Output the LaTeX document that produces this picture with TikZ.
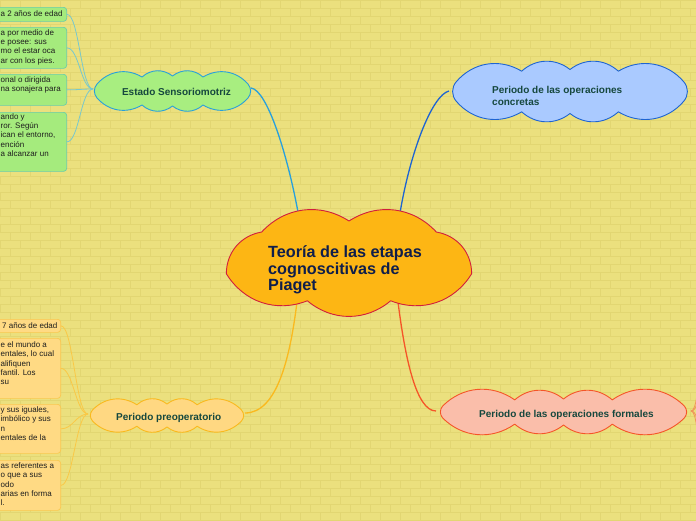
\documentclass[tikz,border=0pt]{standalone}
\usepackage{fontspec}
\setmainfont{Liberation Sans}
\definecolor{bg}{RGB}{235,224,126}
\definecolor{brickline}{RGB}{226,214,114}
\definecolor{cfill}{RGB}{253,182,20}
\definecolor{cline}{RGB}{210,30,60}
\definecolor{ctext}{RGB}{15,30,75}
\definecolor{stext}{RGB}{22,72,62}
\definecolor{gfill}{RGB}{168,238,128}
\definecolor{gline}{RGB}{40,160,220}
\definecolor{bfill}{RGB}{170,202,255}
\definecolor{bline}{RGB}{30,100,210}
\definecolor{rfill}{RGB}{250,190,170}
\definecolor{rline}{RGB}{245,85,40}
\definecolor{ofill}{RGB}{255,216,130}
\definecolor{oline}{RGB}{250,185,30}
\definecolor{gbfill}{RGB}{165,235,125}
\definecolor{gbline}{RGB}{105,205,170}
\definecolor{gconn}{RGB}{120,200,205}
\definecolor{obfill}{RGB}{255,218,132}
\definecolor{obline}{RGB}{250,200,80}
\definecolor{oconn}{RGB}{250,200,70}
\definecolor{rconn}{RGB}{240,150,90}
\definecolor{smalltext}{RGB}{30,30,30}
% cloud outline: 1 cx, 2 cy, 3 a, 4 b, 5 puffs, 6 phase, 7 spacing distortion, 8 bend
\newcommand\mycloudpath[8]{%
 ({#1+#3*cos(#6+#7*28.648*sin(2*(#6)))},{#2-#4*sin(#6+#7*28.648*sin(2*(#6)))})
 \foreach \ii in {1,...,#5}{
   to[bend right=#8] ({#1+#3*cos(#6+360*\ii/#5+#7*28.648*sin(2*(#6+360*\ii/#5)))},{#2-#4*sin(#6+360*\ii/#5+#7*28.648*sin(2*(#6+360*\ii/#5)))})
 } -- cycle}
\begin{document}
\begin{tikzpicture}[x=1pt,y=-1pt,
  cloudline/.style={line width=0.9pt, line join=round},
  maintitle/.style={font=\bfseries\fontsize{16.2}{17}\selectfont, text=ctext, inner sep=0pt, anchor=base west},
  subtitle/.style={font=\bfseries\fontsize{10}{12}\selectfont, text=stext, inner sep=0pt},
  smalltxt/.style={font=\fontsize{8}{9.2}\selectfont, text=smalltext, inner sep=0pt, anchor=base west},
  gbox/.style={draw=gbline, fill=gbfill, rounded corners=3pt, line width=0.7pt, inner sep=0pt, anchor=north east},
  obox/.style={draw=obline, fill=obfill, rounded corners=3pt, line width=0.7pt, inner sep=0pt, anchor=north east},
  mainconn/.style={line width=1.3pt},
  leafconn/.style={line width=0.8pt}
]
\useasboundingbox (0,0) rectangle (696,520);
\begin{scope}
\clip (0,0) rectangle (696,520);
\fill[bg] (0,0) rectangle (696,520);
\foreach \r in {0,...,65}{
  \pgfmathsetmacro\yy{\r*8}
  \pgfmathsetmacro\off{mod(\r,2)*10}
  \draw[brickline, line width=0.6pt] (0,\yy) -- (696,\yy);
  \foreach \k in {0,...,35}{
    \draw[brickline, line width=0.6pt] ({\off+\k*20},\yy) -- ({\off+\k*20},\yy+8);
  }
}

% connection points on the clouds
\coordinate (cTL) at (298,212);
\coordinate (cTR) at (400,213);
\coordinate (cBL) at (297,302);
\coordinate (cBR) at (398,302);
\coordinate (sensE) at (251,88);
\coordinate (sensW) at (93,89);
\coordinate (concW) at (449,91);
\coordinate (preopE) at (245,413);
\coordinate (preopW) at (88,414);
\coordinate (formW) at (436,411);
\coordinate (formE) at (691,411);

% main connectors
\draw[mainconn, gline] (sensE) .. controls +(16,2) and +(-11,-59) .. (cTL);
\draw[mainconn, bline] (concW) .. controls +(-17,4) and +(10,-60) .. (cTR);
\draw[mainconn, oline] (cBL) .. controls +(-7,56) and +(32,0) .. (preopE);
\draw[mainconn, rline] (cBR) .. controls +(7,55) and +(-20,0) .. (formW);

% clouds
\draw[cloudline, draw=cline, fill=cfill] \mycloudpath{349}{262}{128}{41}{7}{90}{0.3}{40};
\draw[cloudline, draw=gline, fill=gfill] \mycloudpath{172.5}{91}{85}{15}{10}{18}{0.55}{40};
\draw[cloudline, draw=bline, fill=bfill] \mycloudpath{570}{91.5}{127}{22}{10}{18}{0.5}{40};
\draw[cloudline, draw=rline, fill=rfill] \mycloudpath{563.5}{412}{136}{13}{10}{18}{0.55}{40};
\draw[cloudline, draw=oline, fill=ofill] \mycloudpath{167}{415.5}{84}{11.5}{10}{18}{0.55}{40};

% texts of clouds
\node[maintitle] (ct1) at (268,257.3) {Teoría de las etapas};
\node[maintitle] (ct2) at (268,274) {cognoscitivas de};
\node[maintitle] (ct3) at (268,290.7) {Piaget};
\node[subtitle, anchor=base] (senst) at (176.5,95) {Estado Sensoriomotriz};
\node[subtitle, anchor=base west] (conct1) at (492,93.3) {Periodo de las operaciones};
\node[subtitle, anchor=base west] (conct2) at (492,105.3) {concretas};
\node[subtitle, anchor=base west] (formt) at (479,417) {Periodo de las operaciones formales};
\node[subtitle, anchor=base west] (preopt) at (116,420) {Periodo preoperatorio};

% green boxes
\node[gbox, minimum width=90pt, minimum height=14pt] (g1) at (67,7) {};
\node[gbox, minimum width=90pt, minimum height=41pt] (g2) at (67,27) {};
\node[gbox, minimum width=90pt, minimum height=31pt] (g3) at (67,74) {};
\node[gbox, minimum width=90pt, minimum height=59pt] (g4) at (67,112) {};
\foreach \b in {g1,g2,g3,g4}{
  \draw[leafconn, gconn] (\b.east) .. controls +(12,0) and +(-12,0) .. (sensW);
}
\node[smalltxt] (g1a) at (0.5,16.8) {a 2 años de edad};
\foreach \t [count=\i] in {a por medio de, e posee: sus, mo el estar oca, ar con los pies.}
  \node[smalltxt] (g2\i) at (0.5,{35.5+(\i-1)*9.2}) {\t};
\foreach \t [count=\i] in {onal o dirigida, na sonajera para}
  \node[smalltxt] (g3\i) at (0.5,{82.5+(\i-1)*9.2}) {\t};
\foreach \t [count=\i] in {ando y, ror. Según, {ican el entorno,}, ención, a alcanzar un}
  \node[smalltxt] (g4\i) at (0.5,{119.5+(\i-1)*9.2}) {\t};

% orange boxes
\node[obox, minimum width=90pt, minimum height=13pt] (o1) at (61,319) {};
\node[obox, minimum width=90pt, minimum height=60pt] (o2) at (61,338) {};
\node[obox, minimum width=90pt, minimum height=49pt] (o3) at (61,404) {};
\node[obox, minimum width=90pt, minimum height=50pt] (o4) at (61,460) {};
\foreach \b in {o1,o2,o3,o4}{
  \draw[leafconn, oconn] (\b.east) .. controls +(12,0) and +(-12,0) .. (preopW);
}
\node[smalltxt] (o1a) at (2,328) {7 años de edad};
\foreach \t [count=\i] in {e el mundo a, {entales, lo cual}, alifiquen, fantil. Los, su}
  \node[smalltxt] (o2\i) at (0.5,{347.8+(\i-1)*9.1}) {\t};
\foreach \t [count=\i] in {{y sus iguales,}, imbólico y sus, n, entales de la}
  \node[smalltxt] (o3\i) at (0.5,{412.8+(\i-1)*9.1}) {\t};
\foreach \t [count=\i] in {as referentes a, o que a sus, odo, arias en forma, l.}
  \node[smalltxt] (o4\i) at (0.5,{468.8+(\i-1)*9.1}) {\t};

% formales leaf connectors going off the right edge
\coordinate (f1) at (700,384);
\coordinate (f2) at (700,398);
\coordinate (f3) at (700,424);
\coordinate (f4) at (700,442);
\foreach \f in {f1,f2,f3,f4}{
  \draw[leafconn, rconn] (formE) .. controls +(6,0) and +(-3,0) .. (\f);
}
\end{scope}
\end{tikzpicture}
\end{document}
